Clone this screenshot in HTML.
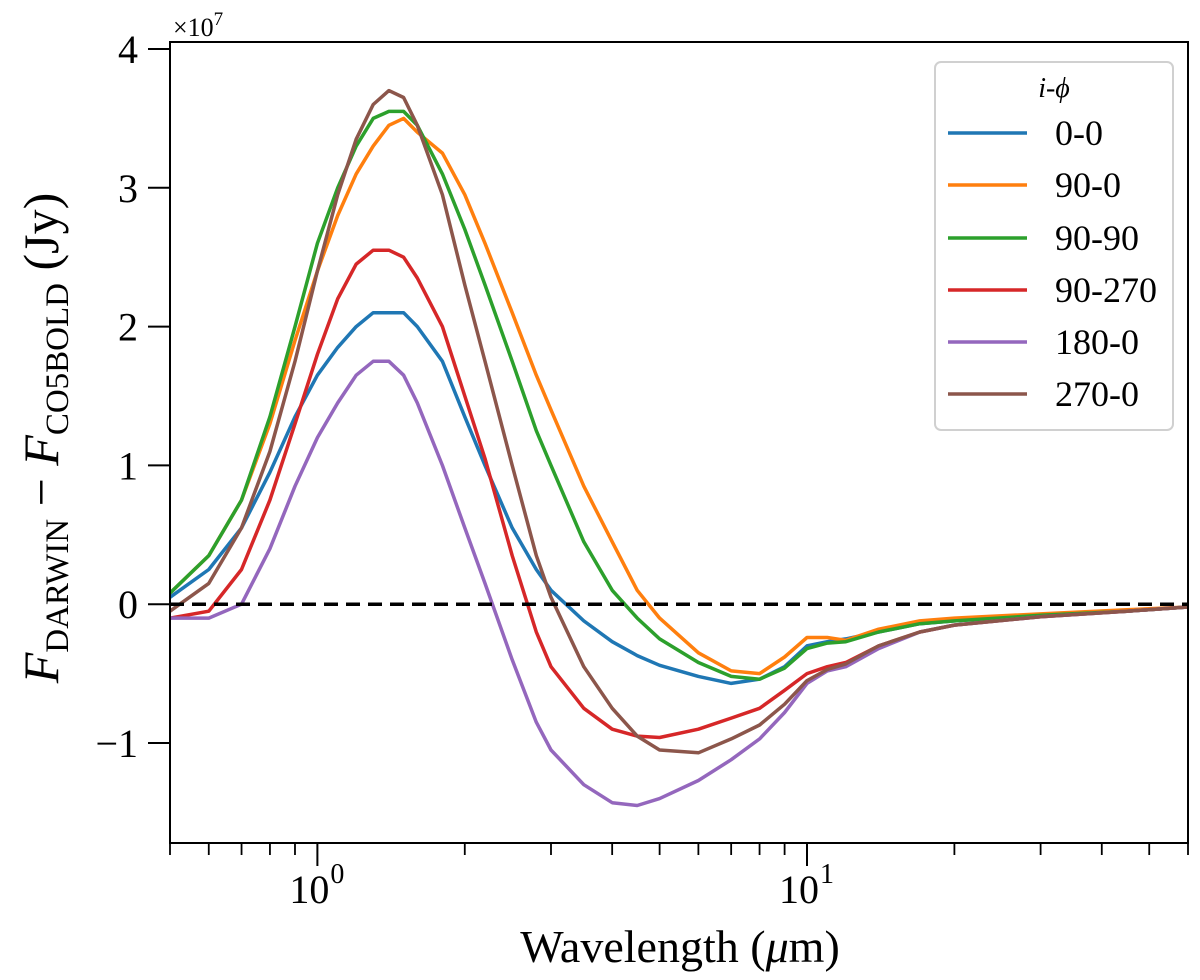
<!DOCTYPE html>
<html><head><meta charset="utf-8"><style>
body{margin:0;background:#fff}
svg text{font-family:"Liberation Serif",serif;fill:#000}
</style></head><body>
<svg id="chart" width="1200" height="980" xmlns="http://www.w3.org/2000/svg" style="position:absolute;left:0;top:0"></svg>
<script>
const wavelengths=[0.5,0.6,0.7,0.8,0.9,1.0,1.1,1.2,1.3,1.4,1.5,1.6,1.8,2.0,2.2,2.5,2.8,3.0,3.5,4,4.5,5,6,7,8,9,10,11,12,14,17,20,30,45,60];
const seriesLabels=["0-0","90-0","90-90","90-270","180-0","270-0"];
const s00=[0.05,0.25,0.55,0.95,1.35,1.65,1.85,2.0,2.1,2.1,2.1,2.0,1.75,1.35,1.0,0.55,0.25,0.1,-0.12,-0.27,-0.37,-0.44,-0.52,-0.57,-0.54,-0.45,-0.3,-0.27,-0.25,-0.2,-0.14,-0.12,-0.08,-0.05,-0.02];
const s900=[0.08,0.35,0.75,1.3,1.9,2.4,2.8,3.1,3.3,3.45,3.5,3.4,3.25,2.95,2.6,2.1,1.65,1.4,0.85,0.45,0.1,-0.1,-0.35,-0.48,-0.5,-0.38,-0.24,-0.24,-0.26,-0.18,-0.12,-0.1,-0.07,-0.04,-0.02];
const s9090=[0.08,0.35,0.75,1.35,2.0,2.6,3.0,3.3,3.5,3.55,3.55,3.45,3.1,2.7,2.3,1.75,1.25,1.0,0.45,0.1,-0.1,-0.25,-0.42,-0.52,-0.54,-0.46,-0.32,-0.28,-0.27,-0.2,-0.14,-0.12,-0.08,-0.05,-0.02];
const s90270=[-0.1,-0.05,0.25,0.75,1.3,1.8,2.2,2.45,2.55,2.55,2.5,2.35,2.0,1.5,1.05,0.35,-0.2,-0.45,-0.75,-0.9,-0.95,-0.96,-0.9,-0.82,-0.75,-0.62,-0.5,-0.45,-0.42,-0.3,-0.2,-0.15,-0.09,-0.05,-0.02];
const s1800=[-0.1,-0.1,0.0,0.4,0.85,1.2,1.45,1.65,1.75,1.75,1.65,1.45,1.0,0.55,0.15,-0.4,-0.85,-1.05,-1.3,-1.43,-1.45,-1.4,-1.27,-1.12,-0.97,-0.78,-0.57,-0.48,-0.45,-0.32,-0.2,-0.15,-0.09,-0.05,-0.02];
const s2700=[-0.05,0.15,0.55,1.1,1.75,2.4,2.95,3.35,3.6,3.7,3.65,3.45,2.95,2.3,1.75,1.0,0.35,0.05,-0.45,-0.75,-0.95,-1.05,-1.07,-0.97,-0.87,-0.72,-0.55,-0.47,-0.43,-0.3,-0.2,-0.15,-0.09,-0.05,-0.02];
const seriesValues=[s00,s900,s9090,s90270,s1800,s2700];
const colors=["#1f77b4","#ff7f0e","#2ca02c","#d62728","#9467bd","#8c564b"];
const yTicks=[-1,0,1,2,3,4];
const xMajor=[1,10];
const xMajorLabels=["0","1"];
const xMinor=[0.5,0.6,0.7,0.8,0.9,2,3,4,5,6,7,8,9,20,30,40,50,60];

const L=170,R=1188,T=42,B=843,XMIN=0.5,XMAX=60,YMIN=-1.72,YMAX=4.05;
const X=w=>L+(Math.log10(w)-Math.log10(XMIN))/(Math.log10(XMAX)-Math.log10(XMIN))*(R-L);
const Y=v=>B-(v-YMIN)/(YMAX-YMIN)*(B-T);
const svg=document.getElementById('chart');const NS='http://www.w3.org/2000/svg';
function mk(t,a,p){const e=document.createElementNS(NS,t);for(const k in a)e.setAttribute(k,a[k]);(p||svg).appendChild(e);return e;}

const clip=mk('clipPath',{id:'pc'});mk('rect',{x:L,y:T,width:R-L,height:B-T},clip);
seriesValues.forEach((vals,i)=>{
  const d=vals.map((v,j)=>(j?'L':'M')+X(wavelengths[j]).toFixed(1)+','+Y(v).toFixed(1)).join('');
  const p=mk('path',{d:d,fill:'none',stroke:colors[i],'stroke-width':3.5,'stroke-linejoin':'round','clip-path':'url(#pc)'});
  
  
});
const zero=mk('line',{x1:L,x2:R,y1:Y(0),y2:Y(0),stroke:'#000','stroke-width':3.5,'stroke-dasharray':'14,8'});


const frame=mk('rect',{x:L,y:T,width:R-L,height:B-T,fill:'none',stroke:'#000','stroke-width':2});


yTicks.forEach(v=>{
  mk('line',{x1:L-22,x2:L,y1:Y(v),y2:Y(v),stroke:'#000','stroke-width':2});
  const t=mk('text',{x:L-32,y:Y(v)+14,'text-anchor':'end','font-size':40});
  t.textContent=v<0?'\u2212'+(-v):String(v);
  
  
});
xMinor.forEach(w=>mk('line',{x1:X(w),x2:X(w),y1:B,y2:B+12,stroke:'#000','stroke-width':1.8}));
xMajor.forEach((w,i)=>{
  mk('line',{x1:X(w),x2:X(w),y1:B,y2:B+23,stroke:'#000','stroke-width':2});
  const t=mk('text',{x:X(w)-8,y:B+60,'text-anchor':'middle','font-size':40});
  t.textContent='10';
  
  
  const s=mk('text',{x:X(w)+13,y:B+40,'font-size':28});
  s.textContent=xMajorLabels[i];
  
  
});
</script>
<svg style="position:absolute;left:0;top:0" width="1200" height="980" xmlns="http://www.w3.org/2000/svg">
  <text x="173" y="36" font-size="26" font-family="Liberation Serif,serif">×10<tspan dy="-11" font-size="19">7</tspan></text>
  <g transform="translate(58,438) rotate(-90)">
    <text text-anchor="middle" font-size="50" font-family="Liberation Serif,serif"><tspan font-style="italic">F</tspan><tspan font-size="33" dy="10">DARWIN</tspan><tspan dy="-10"> − </tspan><tspan font-style="italic">F</tspan><tspan font-size="33" dy="10">CO5BOLD</tspan><tspan dy="-10"> (Jy)</tspan></text>
  </g>
  <text x="680" y="962" text-anchor="middle" font-size="46" font-family="Liberation Serif,serif">Wavelength (<tspan font-style="italic">μ</tspan>m)</text>
  <g>
    <rect x="935" y="62" width="238" height="368" rx="6" fill="#fff" stroke="#d0d0d0" stroke-width="2"/>
    <text x="1054" y="97" text-anchor="middle" font-size="28" font-style="italic" font-family="Liberation Serif,serif">i-ϕ</text>
    <g font-size="36" font-family="Liberation Serif,serif">
      <line x1="948" x2="1027" y1="133" y2="133" stroke="#1f77b4" stroke-width="3.5"/><text x="1055" y="145">0-0</text>
      <line x1="948" x2="1027" y1="185" y2="185" stroke="#ff7f0e" stroke-width="3.5"/><text x="1055" y="197">90-0</text>
      <line x1="948" x2="1027" y1="238" y2="238" stroke="#2ca02c" stroke-width="3.5"/><text x="1055" y="250">90-90</text>
      <line x1="948" x2="1027" y1="290" y2="290" stroke="#d62728" stroke-width="3.5"/><text x="1055" y="302">90-270</text>
      <line x1="948" x2="1027" y1="342" y2="342" stroke="#9467bd" stroke-width="3.5"/><text x="1055" y="354">180-0</text>
      <line x1="948" x2="1027" y1="394" y2="394" stroke="#8c564b" stroke-width="3.5"/><text x="1055" y="406">270-0</text>
    </g>
  </g>
</svg>
</body></html>
